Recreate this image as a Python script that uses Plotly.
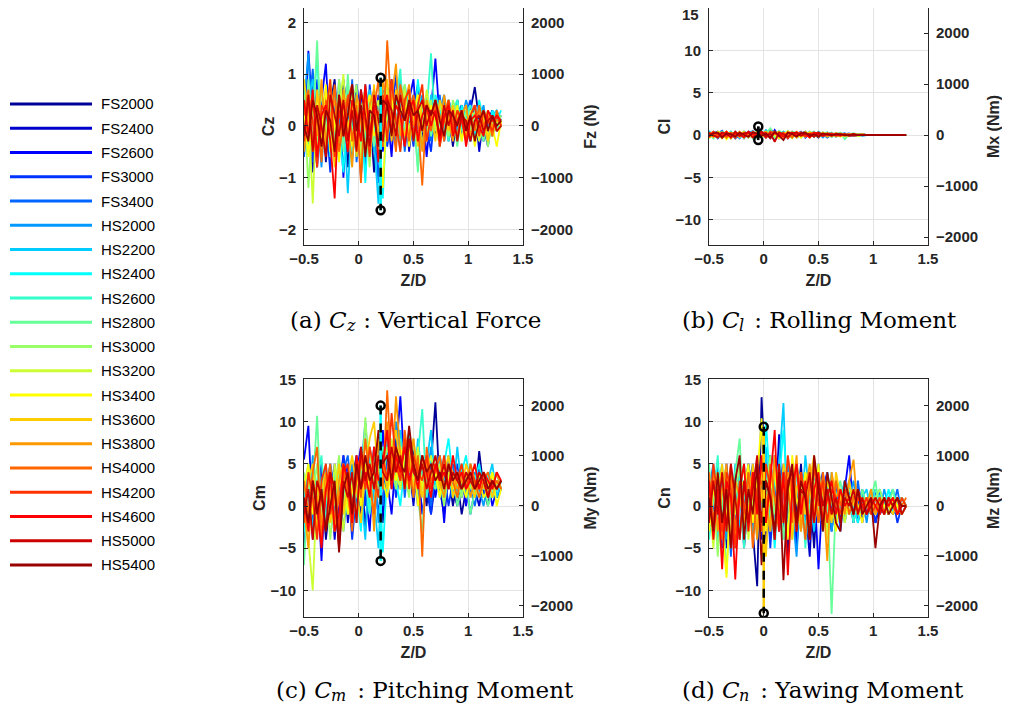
import plotly.graph_objects as go

# page body adds an 8 px margin; the figure fills the rest of the 1010x713 window
OFF = 8
W, H = 1010 - 2 * OFF, 713 - 2 * OFF

# ---------------- data ----------------
Z_D = [-0.50, -0.46, -0.42, -0.38, -0.34, -0.30, -0.26, -0.22, -0.18, -0.14,
       -0.10, -0.06, -0.02, 0.02, 0.06, 0.10, 0.14, 0.18, 0.22, 0.26,
       0.30, 0.34, 0.38, 0.42, 0.46, 0.50, 0.54, 0.58, 0.62, 0.66,
       0.70, 0.74, 0.78, 0.82, 0.86, 0.90, 0.94, 0.98, 1.02, 1.06,
       1.10, 1.14, 1.18, 1.22, 1.26, 1.30]

SERIES = ["FS2000", "FS2400", "FS2600", "FS3000", "FS3400", "HS2000", "HS2200",
          "HS2400", "HS2600", "HS2800", "HS3000", "HS3200", "HS3400", "HS3600",
          "HS3800", "HS4000", "HS4200", "HS4600", "HS5000", "HS5400"]

COLORS = ["#000099", "#0000CC", "#0000FF", "#0033FF", "#0066FF", "#0099FF", "#00CCFF",
          "#00FFFF", "#33FFCC", "#66FF99", "#99FF66", "#CCFF33", "#FFFF00", "#FFCC00",
          "#FF9900", "#FF6600", "#FF3300", "#FF0000", "#CC0000", "#990000"]

CZ = [
    [0.3, -0.5, 0.8, -0.2, 0.6, -0.7, 0.4, 0.9, -0.3, 0.5, -0.8, 0.2, -0.4, 0.7, -0.6, 0.3, -0.9, 0.5, 0.1, 0.8,
     -0.3, 0.6, 0.2, -0.4, 0.7, 0.1, 0.5, -0.3, 0.4, 0.2, -0.2, 0.5, 0.0, 0.3, -0.4, 0.2, 0.4, -0.1, 0.3, 0.75,
     0.1, -0.2, 0.3, -0.1, 0.2, 0.1],
    [0.5, -0.2, -0.9, 0.4, 0.1, 0.7, -0.6, 0.3, -0.2, 0.9, 0.2, -0.5, 0.6, -1.0, 0.4, -0.2, 0.7, -0.7, 0.3, 0.5,
     0.9, -0.2, 0.4, 0.6, -0.5, 0.3, 0.8, 0.0, -0.3, 0.5, 0.2, -0.4, 0.4, 0.1, -0.3, 0.5, -0.2, 0.3, 0.0, 0.4,
     -0.5, 0.2, 0.0, 0.3, -0.1, 0.0],
    [-0.3, 1.45, 0.2, -0.8, 0.5, 1.2, -0.4, 0.1, 0.6, -1.0, 0.4, -0.3, 0.8, 0.2, -0.7, 0.5, 0.0, 0.6, -0.5, 0.3,
     -0.6, 0.7, 0.3, -0.2, 0.5, 0.9, -0.3, 0.4, -0.6, 0.3, 1.3, 0.1, -0.2, 0.5, 0.2, -0.3, 0.4, 0.1, -0.2, 0.3,
     0.2, -0.3, 0.1, 0.3, -0.1, 0.1],
    [0.1, 0.6, -0.7, 0.9, -0.3, 0.2, -0.9, 0.5, 0.3, -0.4, 0.7, -0.6, 0.1, 0.5, -0.9, 0.8, -0.2, 0.3, 0.6, -0.4,
     0.2, 1.0, -0.3, 0.5, 0.2, -0.4, 0.6, 0.3, 0.0, -0.5, 0.4, 0.2, 0.5, -0.3, 0.1, 0.4, -0.2, 0.2, 0.5, -0.1,
     0.3, 0.0, -0.4, 0.2, 0.0, 0.2],
    [-0.6, 0.2, 1.1, -0.3, 0.4, -0.5, 0.8, -0.2, 0.1, 0.6, -0.4, 0.9, -0.7, 0.2, 0.4, -0.5, 0.3, -1.1, 0.7, 0.2,
     0.5, -0.1, 0.7, -0.5, 0.3, 0.6, -0.2, 0.2, 0.6, -0.3, 0.1, 0.6, -0.3, 0.2, 0.4, -0.1, 0.3, 0.0, -0.3, 0.2,
     0.4, -0.1, 0.2, -0.2, 0.1, 0.0],
    [0.4, 1.4, -0.3, 0.2, -0.8, 0.5, 0.1, -0.4, 0.9, -0.2, 0.3, -0.7, 0.5, -0.3, 0.8, 0.1, -0.5, 0.4, -0.2, 0.7,
     0.3, -0.4, 0.9, 0.2, -0.1, 0.5, 0.1, 0.6, -0.2, 0.4, -0.1, 0.3, 0.6, 0.0, 0.4, -0.3, 0.1, 0.5, 0.2, -0.2,
     0.1, 0.4, -0.3, 0.1, 0.2, 0.0],
    [-0.2, 0.5, 0.9, -0.6, 0.3, -0.3, 0.6, 0.2, -0.7, 0.4, -1.3, 0.3, 0.6, -0.4, 0.2, 0.7, -0.3, -1.5, 0.4, 0.1,
     0.6, 0.2, -0.4, 0.8, 0.3, -0.1, 0.5, 0.2, -0.3, 0.6, 0.2, -0.2, 0.4, 0.3, -0.1, 0.5, 0.0, 0.3, -0.3, 0.2,
     0.0, 0.3, -0.2, 0.2, 0.3, 0.1],
    [0.8, -0.4, 0.3, 1.3, -0.2, 0.5, -0.6, 0.7, 0.0, -0.9, 0.5, 0.2, -0.6, 0.4, -1.1, 0.6, 0.3, -0.3, -1.4, 0.5,
     0.1, 0.6, -0.2, 0.4, 0.7, -0.3, 0.9, 0.1, 0.5, -0.2, 0.6, 0.3, -0.1, 0.5, 0.2, -0.2, 0.4, 0.1, 0.3, -0.2,
     0.5, 0.1, -0.1, 0.3, 0.1, 0.3],
    [0.2, -0.3, 0.7, -0.5, 0.4, 0.1, -0.2, 0.6, -0.4, 0.3, 0.8, -0.5, 0.2, 0.4, -0.3, 0.6, 0.0, -0.6, 0.4, 0.2,
     -0.2, 0.5, 1.1, -0.3, 0.4, 0.2, -0.8, 0.5, 0.3, 1.4, -0.1, 0.4, 0.2, -0.3, 0.3, 0.5, -0.1, 0.2, 0.4, 0.0,
     -0.2, 0.3, 0.1, -0.1, 0.2, 0.1],
    [-0.4, 0.9, -0.1, 1.65, -0.6, 0.3, 0.8, -0.3, 0.5, -0.5, 1.0, -0.2, 0.4, -0.7, 0.3, 0.5, -0.4, 0.2, 0.6, -0.3,
     0.4, 0.2, -0.5, 0.6, 0.1, 0.4, -0.9, 0.3, 0.5, -0.2, 0.3, 0.0, 0.4, -0.2, 0.2, -0.4, 0.3, 0.1, -0.1, 0.3,
     0.0, -0.3, 0.2, 0.1, -0.1, 0.1],
    [0.6, -1.2, 0.3, -0.4, 0.7, -0.2, 0.5, -0.6, 0.9, 0.2, -0.3, 0.4, 0.8, -0.5, 0.1, -0.8, 0.5, 0.2, -0.4, 0.6,
     0.3, -0.2, 0.5, 0.8, -0.1, 0.3, 0.6, -0.4, 0.2, 0.5, -0.1, 0.4, 0.1, -0.2, 0.5, 0.2, -0.3, 0.3, 0.0, 0.2,
     -0.1, 0.2, -0.4, 0.1, 0.0, 0.2],
    [-0.1, 0.4, -1.5, 0.6, 0.2, -0.5, 0.9, -0.1, 0.3, 1.0, -0.4, 0.6, -0.2, 0.3, 0.7, -0.6, 0.2, 0.5, -0.3, 0.8,
     -0.1, 0.4, 0.2, 0.7, -0.2, 0.5, 0.2, -0.1, 0.7, 0.1, 0.4, -0.3, 0.2, 0.5, -0.2, 0.3, 0.1, -0.2, 0.3, 0.2,
     -0.3, 0.1, 0.3, -0.2, 0.1, 0.0],
    [0.3, -0.6, 0.5, 0.1, -0.3, 0.8, -0.5, 0.2, -0.7, 0.4, 0.1, -0.4, 0.5, -0.9, 0.3, 0.6, -0.2, 0.0, -1.2, 0.4,
     0.6, -0.2, 0.3, 0.5, -0.4, 0.2, 0.6, 0.0, -0.3, 0.4, 0.1, -0.4, 0.3, 0.2, -0.2, 0.4, -0.3, 0.1, 0.2, -0.4,
     0.1, 0.3, -0.2, 0.0, -0.4, 0.1],
    [0.9, 0.2, -0.5, 0.7, -0.2, 0.4, 0.1, -0.8, 0.6, 0.3, -0.3, 0.5, -0.6, 0.2, 0.4, -0.2, 0.8, -0.5, 0.5, 0.9,
     -0.3, 0.7, 0.1, -0.2, 0.6, 0.3, -0.4, 0.5, 0.1, 0.3, -0.3, 0.5, 0.2, -0.1, 0.4, 0.0, 0.3, -0.2, 0.2, 0.4,
     -0.1, 0.2, -0.3, 0.2, -0.1, 0.0],
    [-0.5, 0.3, 0.6, -0.2, 0.9, -0.4, 0.2, 0.5, -0.3, 0.7, 0.0, -0.8, 0.6, 0.2, -0.5, 0.4, 0.7, -0.3, 0.9, 0.3,
     0.5, 1.2, -0.2, 0.4, 0.8, 0.0, 0.3, -0.5, 0.5, 0.2, 0.4, -0.2, 0.6, 0.1, -0.3, 0.3, 0.2, 0.4, -0.2, 0.1,
     0.3, -0.1, 0.2, 0.0, 0.1, 0.1],
    [0.2, 0.7, -0.4, 0.3, -0.7, 0.5, -0.1, 0.8, -0.5, 0.1, 0.6, -0.3, 0.4, -1.1, 0.7, -0.2, 0.3, 0.9, -0.4, 1.65,
     0.2, -0.5, 0.8, 0.3, -0.3, 0.6, 0.1, -1.15, 0.4, -0.1, 0.5, 0.2, -0.3, 0.4, 0.1, -0.2, 0.3, 0.0, 0.2, -0.1,
     0.4, 0.0, 0.2, -0.2, 0.3, 0.0],
    [-0.3, 0.5, 0.1, -0.8, 0.4, 0.2, 0.9, -0.6, 0.3, -0.2, 0.5, 0.8, -0.4, 0.3, 0.1, -0.6, 0.4, 0.2, 0.6, -0.3,
     0.9, 0.1, -0.5, 0.5, 0.7, -0.2, 0.4, 0.8, -0.3, 0.2, 0.5, -0.4, 0.1, 0.5, -0.1, 0.3, 0.1, -0.3, 0.2, 0.4,
     -0.2, 0.3, 0.1, -0.1, 0.2, 0.0],
    [0.5, -0.2, 0.7, -0.6, 0.2, 0.4, -0.3, -1.4, 0.6, 0.1, -0.5, 0.5, 0.2, -0.3, 0.8, -0.2, 0.4, -0.7, 0.3, 0.6,
     -0.1, 0.4, 0.2, -0.4, 0.3, 0.5, -0.3, 0.2, 0.4, 0.0, 0.3, -0.3, 0.2, 0.4, -0.2, 0.1, 0.3, -0.4, 0.1, 0.2,
     0.0, -0.2, 0.3, 0.1, 0.2, 0.1],
    [-0.2, 0.6, -0.5, 0.4, 0.0, -0.6, 0.6, 0.2, -0.2, 0.5, -0.3, 0.3, -0.5, 0.7, 0.2, -0.4, 0.6, 0.1, -0.3, 0.5,
     0.3, -0.2, 0.6, 0.1, 0.4, -0.3, 0.3, 0.5, 0.0, 0.3, 0.2, -0.2, 0.4, 0.0, 0.3, -0.3, 0.2, 0.1, -0.3, 0.1,
     0.2, -0.1, 0.1, 0.2, -0.1, 0.0],
    [0.0, -0.3, 0.5, 0.2, -0.4, 0.3, 0.1, -0.5, 0.6, -0.2, 0.2, 0.8, -0.1, 0.4, -0.6, 0.3, 0.2, -0.4, 0.5, 0.4,
     -0.2, 0.6, 0.3, 0.1, 0.5, 0.2, 0.3, -0.1, 0.4, 0.2, 0.5, 0.1, -0.2, 0.3, 0.2, 0.0, 0.3, -0.1, 0.2, -0.3,
     0.1, 0.3, -0.1, 0.2, 0.0, 0.1],
]

CL = [
    [0.2, -0.3, 0.1, 0.4, -0.2, 0.3, -0.4, 0.1, 0.2, -0.3, 0.4, -0.1, 0.3, -0.2, 0.5, -0.3, 0.1, 0.2, -0.4, 0.3,
     -0.1, 0.2, 0.4, -0.2, 0.1, -0.3, 0.2, 0.1, -0.1, 0.2, 0.1, -0.1, 0.1, 0.0, -0.1, 0.1, 0, 0, 0, 0, 0, 0, 0, 0, 0, 0],
    [-0.3, 0.2, 0.4, -0.1, 0.3, -0.4, 0.2, -0.2, 0.4, 0.1, -0.3, 0.2, -0.1, 0.5, -0.2, 0.3, -0.4, 0.2, 0.1, -0.3,
     0.3, -0.2, 0.1, 0.3, -0.2, 0.2, -0.1, 0.3, 0.1, -0.2, 0.2, 0.0, -0.1, 0.1, 0.0, 0.1, 0, 0, 0, 0, 0, 0, 0, 0, 0, 0],
    [0.1, 0.3, -0.4, 0.2, 0.0, -0.3, 0.3, 0.1, -0.2, 0.4, 0.2, -0.4, 0.3, 0.1, -0.3, 0.6, -0.2, 0.1, 0.3, -0.2,
     0.1, 0.4, -0.3, 0.2, 0.0, 0.3, -0.2, 0.1, 0.2, -0.1, 0.1, 0.2, -0.1, 0.0, 0.1, 0.0, 0, 0, 0, 0, 0, 0, 0, 0, 0, 0],
    [-0.2, 0.4, 0.0, -0.3, 0.3, 0.1, -0.2, 0.3, -0.4, 0.2, 0.0, 0.3, -0.2, 0.4, 0.1, -0.5, 0.2, 0.3, -0.1, 0.2,
     -0.3, 0.1, 0.3, -0.1, 0.2, -0.2, 0.3, 0.0, -0.2, 0.1, 0.0, 0.1, 0.0, -0.1, 0.1, 0.0, 0, 0, 0, 0, 0, 0, 0, 0, 0, 0],
    [0.3, -0.1, 0.2, 0.5, -0.3, 0.2, 0.1, -0.4, 0.3, 0.0, -0.2, 0.4, 0.1, -0.3, 0.7, 0.2, -0.2, 0.4, 0.0, -0.3,
     0.2, -0.1, 0.3, 0.1, -0.2, 0.2, 0.1, -0.3, 0.1, 0.2, -0.1, 0.1, 0.2, 0.0, -0.1, 0.1, 0, 0, 0, 0, 0, 0, 0, 0, 0, 0],
    [0.4, 0.1, -0.3, 0.2, 0.3, -0.2, 0.4, 0.0, -0.3, 0.2, 0.5, -0.1, 0.2, 0.3, -0.4, 0.1, 0.4, -0.2, 0.3, 0.1,
     -0.2, 0.3, 0.1, 0.4, -0.1, 0.2, -0.3, 0.2, 0.0, 0.1, 0.2, -0.1, 0.0, 0.1, 0.0, -0.1, 0, 0, 0, 0, 0, 0, 0, 0, 0, 0],
    [0.5, -0.2, 0.3, 0.1, -0.4, 0.4, -0.1, 0.2, 0.3, -0.3, 0.1, 0.4, -0.2, 0.6, 0.2, -0.3, 0.3, 0.0, -0.2, 0.4,
     0.1, -0.2, 0.3, 0.2, -0.1, 0.4, 0.1, -0.2, 0.2, 0.0, 0.1, 0.2, -0.1, 0.1, 0.0, 0.1, 0, 0, 0, 0, 0, 0, 0, 0, 0, 0],
    [-0.1, 0.3, 0.2, -0.3, 0.1, 0.4, -0.3, 0.2, 0.0, 0.3, -0.4, 0.2, 0.5, -0.1, 0.3, 0.2, -0.3, 0.4, 0.1, -0.2,
     0.3, 0.0, -0.2, 0.3, 0.1, -0.1, 0.2, 0.3, -0.2, 0.1, 0.0, -0.1, 0.1, 0.2, 0.0, 0.0, 0, 0, 0, 0, 0, 0, 0, 0, 0, 0],
    [0.2, -0.4, 0.1, 0.3, -0.1, 0.2, 0.3, -0.3, 0.4, -0.1, 0.2, 0.0, -0.3, 0.4, 0.2, -0.2, 0.5, 0.1, -0.3, 0.2,
     0.0, 0.3, -0.1, 0.2, 0.4, -0.2, 0.1, 0.0, 0.3, -0.1, 0.2, 0.0, 0.1, -0.1, 0.1, 0.0, 0, 0, 0, 0, 0, 0, 0, 0, 0, 0],
    [0.0, 0.2, -0.2, 0.4, 0.1, -0.3, 0.2, 0.3, -0.1, 0.2, 0.3, -0.4, 0.1, 0.2, 0.8, -0.2, 0.1, 0.3, -0.2, 0.4,
     0.2, -0.3, 0.1, 0.2, -0.1, 0.3, 0.0, -0.1, 0.2, 0.1, 0.3, -0.5, 0.1, 0.0, -0.1, 0.1, 0, 0, 0, 0, 0, 0, 0, 0, 0, 0],
    [0.3, 0.1, -0.3, 0.0, 0.4, -0.2, 0.1, 0.3, -0.4, 0.2, 0.1, 0.3, -0.2, 0.1, 0.4, -0.3, 0.2, -0.1, 0.5, 0.0,
     -0.2, 0.2, 0.3, -0.2, 0.1, 0.2, -0.1, 0.3, 0.0, -0.2, 0.1, 0.1, 0.0, 0.2, -0.1, 0.0, 0, 0, 0, 0, 0, 0, 0, 0, 0, 0],
    [-0.4, 0.2, 0.3, -0.2, 0.1, 0.3, -0.1, 0.2, 0.4, -0.3, 0.2, 0.1, -0.3, 0.3, 0.0, 0.4, -0.2, 0.2, 0.1, -0.4,
     0.3, 0.1, -0.2, 0.4, 0.0, -0.1, 0.3, 0.1, -0.2, 0.2, 0.0, 0.1, -0.1, 0.1, 0.0, 0.1, 0, 0, 0, 0, 0, 0, 0, 0, 0, 0],
    [0.1, -0.3, 0.4, 0.2, -0.5, 0.1, 0.3, -0.2, 0.2, 0.1, -0.3, 0.5, 0.2, -0.2, 0.3, 0.1, -0.4, 0.2, 0.3, -0.1,
     0.2, -0.3, 0.4, 0.0, 0.2, -0.2, 0.1, 0.2, -0.1, 0.1, -0.2, 0.1, 0.0, 0.1, -0.1, 0.0, 0, 0, 0, 0, 0, 0, 0, 0, 0, 0],
    [0.2, 0.3, -0.2, 0.1, 0.4, -0.4, 0.2, 0.0, 0.3, -0.2, 0.4, 0.1, -0.1, 0.3, -0.3, 0.2, 0.4, -0.2, 0.1, 0.3,
     -0.3, 0.2, 0.0, 0.3, -0.2, 0.1, 0.2, -0.1, 0.1, 0.2, 0.0, -0.1, 0.1, 0.0, 0.1, 0.0, 0, 0, 0, 0, 0, 0, 0, 0, 0, 0],
    [-0.3, 0.1, 0.2, -0.4, 0.3, 0.2, -0.1, 0.4, -0.2, 0.1, 0.3, -0.3, 0.2, 0.4, -0.1, 0.3, 0.0, -0.3, 0.4, 0.1,
     -0.1, 0.3, 0.2, -0.3, 0.2, 0.0, 0.3, -0.2, 0.1, 0.0, 0.2, 0.0, -0.1, 0.1, 0.0, 0.0, 0, 0, 0, 0, 0, 0, 0, 0, 0, 0],
    [0.1, 0.4, -0.1, 0.2, -0.3, 0.3, 0.1, -0.2, 0.3, 0.2, -0.2, 0.3, 0.4, -0.3, 0.1, 0.4, -0.2, 0.1, 0.3, -0.3,
     0.4, 0.0, -0.1, 0.2, 0.3, -0.2, 0.1, 0.2, -0.1, 0.2, 0.1, -0.1, 0.0, 0.1, 0.0, 0.1, 0, 0, 0, 0, 0, 0, 0, 0, 0, 0],
    [0.3, -0.2, 0.1, 0.3, -0.1, 0.2, -0.3, 0.3, 0.1, -0.2, 0.4, 0.0, 0.2, -0.3, 0.4, 0.2, -0.1, 0.3, -0.4, 0.2,
     0.1, 0.3, -0.2, 0.1, 0.2, 0.3, -0.1, 0.0, 0.2, -0.1, 0.1, 0.0, 0.1, -0.1, 0.0, 0.0, 0, 0, 0, 0, 0, 0, 0, 0, 0, 0],
    [-0.2, 0.3, 0.2, -0.1, 0.4, -0.3, 0.2, 0.1, -0.3, 0.4, 0.1, -0.2, 0.3, 0.2, -0.4, 0.3, 0.1, -0.2, 0.2, 0.3,
     -0.1, 0.2, 0.1, -0.3, 0.3, 0.1, -0.1, 0.2, 0.1, 0.0, -0.1, 0.1, 0.0, 0.1, 0.0, 0.0, 0, 0, 0, 0, 0, 0, 0, 0, 0, 0],
    [0.2, 0.0, -0.3, 0.3, 0.1, -0.2, 0.4, -0.1, 0.2, 0.3, -0.3, 0.1, 0.4, -0.2, 0.2, -0.8, 0.3, 0.1, -0.2, 0.2,
     0.3, -0.1, 0.2, 0.1, -0.2, 0.3, 0.0, 0.1, -0.1, 0.1, 0.0, 0.1, -0.1, 0.0, 0.0, 0.0, 0, 0, 0, 0, 0, 0, 0, 0, 0, 0],
    [-0.1, 0.2, 0.3, -0.3, 0.2, 0.1, -0.2, 0.3, 0.0, -0.2, 0.3, 0.2, -0.1, 0.2, -0.3, 0.4, -0.1, -0.6, 0.3, 0.1,
     -0.2, 0.2, 0.3, -0.1, 0.1, -0.2, 0.2, 0.1, 0.0, 0.1, 0.1, 0.0, 0.0, 0.1, 0.0, 0.0, 0, 0, 0, 0, 0, 0, 0, 0, 0, 0],
]

CM = [
    [2, -3, 5, -1, 3, -4, 1, 4, -2, 5, -1, 3, 6, -2, 4, 1, 7, 3, -2, 6,
     4, 8, 2, 6, 3, 7, 1, 4, 0, 5, 12.3, 2, -1, 4, 0, 3, -1, 2, 4, 1, 6.5, 2, 0, 3, 1, 2],
    [-2, 4, 1, -3, 5, 0, 3, -4, 2, 6, -2, 4, 0, 6, -3, 5, 2, 8, -1, 4,
     7, 2, 9, 3, 5, 0, 6, 2, 4, -1, 3, 5, 1, 4, 2, 0, 3, 1, 4, 2, 0, 3, 1, 4, 2, 3],
    [5.5, 9.5, -2, 3, -6.5, 4, 0, 5, -3, 2, 5, -1, 4, 7, 2, -3, 6, 1, 9, 3,
     -1, 6, 13, 4, 8, 2, 5, -1, 3, 6, 1, 4, -2, 5, 3, 1, 4, 0, 3, 2, 5, 1, 3, 0, 2, 3],
    [0, 3, -4, 2, 5, -2, 4, 1, -3, 6, 3, -4, 2, 5, 0, 7, 3, -1, 5, 2,
     6, 1, 4, 7, 3, 6, 0, 4, 2, -1, 5, 2, 4, 0, 3, 5, 1, 3, -1, 2, 4, 1, 2, 3, 1, 2],
    [-5, 2, 4, -1, 3, -3, 5, 2, -2, 4, 6, 1, -2, 3, 6, 2, 5, 4, 0, 7,
     2, 5, 8, 1, 6, 3, 7, 2, 5, 0, 4, 6, 2, 3, 5, 1, 3, 4, 2, 0, 3, 2, 4, 1, 3, 2],
    [3, -2, 6, 1, -4, 2, 5, -1, 3, -3, 2, 5, -1, 4, 10, 3, 6, -2, 4, 8,
     3, 10, 5, 2, 7, 4, 1, 5, 3, 7, 2, 4, 1, 6, 3, 2, 5, 1, 3, 4, 2, 0, 3, 2, 4, 2],
    [1, 4, -3, 3, 0, 5, -2, 2, 4, -1, 3, 0, 5, 2, -4, 6, 1, -5, 7, 3,
     5, 2, 9, 4, 6, 1, 8, 3, 5, 9, 2, 6, 3, 4, 1, 7, 2, 3, 5, 1, 4, 2, 3, 5, 1, 3],
    [-3, 2, 5, -1, 3, 1, -2, 4, 0, 3, -1, 4, 2, -3, 5, 0, 3, 6, -5.5, 4,
     6, 3, 0, 5, 9, 2, 7, 4, 2, 6, 4, 1, 5, 8, 3, 2, 4, 6, 2, 3, 5, 2, 4, 1, 3, 2],
    [2, 5, -1, 3, 6, -2, 3, 0, 5, 2, -1, 4, 1, 6, 3, -1, 5, 3, 7, 2,
     6, 4, 8, 2, 5, 3, 6, 11.5, 1, 4, 3, 5, 2, 4, 1, 3, 5, 2, 3, 1, 4, 2, 3, 1, 2, 3],
    [-7, 3, 2, 10.7, -2, 4, 1, -3, 5, 2, 0, 4, -2, 5, 3, 1, 6, 2, 4, 9,
     3, 6, 2, 7, 4, 5, 1, -3, 6, 3, 2, 5, 1, 3, 4, 0, 2, 3, -1, 2, 1, 3, 0, 2, 3, 2],
    [4, -3, 1, 5, -1, 3, -4, 2, 6, 0, 3, -2, 4, 1, 10.5, 3, 5, 1, 3, 7,
     5, 2, 6, 4, 1, 8, 3, 5, 2, 4, 6, 3, 0, 4, 2, 3, 1, 4, 2, 3, 1, 3, 2, 4, 2, 3],
    [1, -4, -10, 3, 0, 4, -2, 5, 1, -3, 4, 2, -1, 5, 3, 7, 2, 4, 6, 3,
     8, 4, 2, 6, 5, 3, 7, 2, 4, 6, 3, 5, 2, 4, 3, 1, 4, 2, 5, 3, 2, 4, 1, 3, 2, 3],
    [2, 5, -1, 3, -3, 4, 1, -2, 3, 5, -1, 2, 4, 0, 5, 2, -1, 6, 3, 1,
     5, 3, 7, 4, 2, 6, 0, 3, 5, 2, 4, 1, 5, 3, 2, 4, 3, 1, 4, 2, 3, 1, 2, 4, 0, 2],
    [-1, 3, 5, -3, 2, 4, -2, 1, 5, -1, 3, 6, 2, -2, 4, 8, 10, 3, 5, 2,
     6, 9, 4, 3, 7, 2, 5, 1, 4, 3, 5, 2, 4, 6, 1, 3, 2, 5, 3, 1, 4, 2, 3, 1, 3, 2],
    [0, -5, 3, 1, -2, 4, 2, -3, 3, 5, 1, -2, 4, 6, 2, 5, -3, 8, 4, 10,
     3, 13, 6, 2, 5, 8, 3, 6, 2, 4, 5, 3, 1, 5, 4, 2, 3, 4, 1, 3, 2, 4, 3, 2, 4, 2],
    [3, -1, 4, 7, -4, 2, 5, -2, 1, 4, 2, -3, 5, 1, 8, 3, -1, 6, 2, 13.7,
     4, 7, 3, 9, 5, 1, 6, -6, 7, 3, 4, 6, 2, 5, 3, 1, 4, 2, 5, 3, 1, 3, 4, 2, 3, 2],
    [-2, 4, 1, -4, 3, 5, -1, 2, -3, 4, 5, 0, 3, 6, 2, 7, 4, 1, 6, 3,
     11, 5, 3, 8, 2, 6, 4, 3, 6, 2, 5, 3, 6, 2, 4, 3, 5, 2, 4, 3, 2, 4, 1, 3, 2, 3],
    [1, -3, 3, 0, -5, 2, 4, -3, -1, 5, 3, -2, 6, 2, 4, 1, 7, 3, 5, 9,
     2, 6, 4, 7, 3, 5, 2, 6, 4, 1, 5, 3, 4, 2, 6, 3, 4, 2, 3, 5, 2, 4, 3, 2, 4, 3],
    [-1, 2, -4, 3, 1, -3, 4, 2, -5, 3, 1, 4, -2, 7, 3, 5, 2, 6, 4, 3,
     7, 4, 6, 2, 8, 4, 3, 5, 2, 4, 6, 3, 5, 2, 4, 3, 2, 4, 3, 2, 4, 3, 1, 3, 2, 3],
    [1, -2, 3, -1, 2, -3, 0, 3, -5.5, 2, 4, -1, 5, 2, 6, 3, 4, 9, 5, 6,
     3, 7, 5, 4, 9.5, 5, 3, 6, 4, 5, 3, 4, 2, 5, 3, 4, 2, 3, 4, 2, 3, 4, 2, 3, 2, 3],
]

CN = [
    [3, -2, 5, -4, 1, -3, 2, 4, -5, 1, -3, -9.5, 12.9, 2, -4, 5, -2, 3, -6, 4,
     -1, 5, -3, 2, -5, 4, 1, -3, 3, -2, 1, -1, 2, -2, 1, 0, -1, 1, -2, 0, 1, -1, 0, 1, -1, 0],
    [-2, 4, -1, 3, -5, 2, -3, 5, 1, -2, 4, -1, 3, -5, 6, -2, 8.5, -3, 2, 5,
     -4, 3, 0, -6, 4, -2, 3, 1, -3, 2, -1, 3, -1, 1, -2, 1, 0, -1, 1, -1, 0, 1, -1, 0, 1, 0],
    [1, -3, 4, -2, 5, -1, 3, -4, 2, 5, -3, 2, -4, 4, -2, 6, -3, 3, -1, 4,
     -5, 2, 4, -2, 3, -7.5, 2, 4, -1, 3, -2, 2, 6, -1, 2, -2, 1, -1, 2, -1, 1, 0, -1, 1, 0, 0],
    [4, -1, 2, -5, 3, 1, -4, 2, -2, 5, 1, -3, 2, 4, -5, 3, 0, -2, 5, -3,
     2, 4, -4, 3, -1, 2, 4, -3, 1, 2, -2, 1, 3, -1, 0, 2, -1, 1, -2, 1, 0, -1, 1, -2, 0, 0],
    [-3, 2, 5, -2, 4, -6, 3, 1, -3, 2, 5, -1, 4, -2, 6, -3, 2, 5, -4, 3,
     1, -3, 4, 2, -2, 5, -3, 2, 0, 3, -3, 2, 1, -2, 3, -1, 1, 0, -1, 2, -1, 1, 0, 2, -1, 0],
    [2, 5, -3, 1, -4, 3, -1, 2, 5, -2, 3, -4, 1, 6, -3, 4, -2, 2, 5, -1,
     -6, 3, 1, -3, 4, 1, -2, 3, -3, 1, 2, -2, 1, 3, -1, 1, -2, 2, 1, -1, 2, 0, 1, -1, 1, 0],
    [-1, 3, -5, 4, 0, -2, 5, -3, 2, 4, -4, 3, 1, 7, -2, 3, 5, 12.2, -3, 2,
     4, -2, 6, 1, -3, 3, 2, -1, 4, -2, 1, 3, -1, 2, -1, 1, 2, -1, 1, 2, -1, 1, 2, 0, 1, 0],
    [3, -4, 2, 5, -2, 1, -5, 4, 2, -3, 4, 1, -3, 10, 2, -5, 3, 9, 1, -4,
     5, 2, -3, 4, 0, 3, -2, 4, 1, -1, 2, -1, 3, 0, -2, 1, 0, 2, -1, 1, 0, 2, -1, 1, 0, 0],
    [-4, 1, 6, -3, 2, 4, -1, 3, -5, 2, 1, -3, 4, 2, -2, 5, 0, -4, 3, 1,
     -2, 4, -5, 2, 3, -1, 2, -2, 3, 0, -1, 2, 1, -2, 1, 0, 1, -1, 2, 1, -1, 1, 0, 1, 0, 0],
    [5, -2, 3, 1, -8, 2, 4, 8, -3, 1, -2, 4, 3, -1, 5, -3, 2, -4, 3, 1,
     5, -2, 3, -1, 4, 2, -3, 1, -12.8, 1, 3, -1, 2, 1, -1, 2, 0, 1, 3, -1, 1, 0, 2, -1, 1, 0],
    [-2, 3, -6, 2, 4, -3, 1, 5, -2, 3, 0, 4, -3, 2, 6, -1, 3, -2, 4, 2,
     -3, 1, 4, -2, 3, 0, 2, -3, 2, 1, -1, 2, 0, 1, -1, 1, 0, -1, 1, 2, 0, -1, 1, 0, 1, 0],
    [1, -5, 2, 4, -3, 3, -1, 2, 5, -4, 2, -2, 4, 1, -3, 5, 1, -2, 4, -3,
     2, 3, -1, 4, -2, 1, 3, -4, 2, 0, 1, -2, 1, 2, -1, 0, 1, -1, 0, 1, -1, 0, 1, -1, 0, 0],
    [-3, 2, 4, -2, -8.5, 3, 1, -4, 2, 5, -2, 3, 10.4, -3, 2, 4, -1, 3, -4, 6,
     1, -3, 4, 2, -1, 5, -2, 3, 1, -3, 2, 0, -1, 2, 0, -2, 1, 0, -1, 1, 0, -1, 1, 0, -1, 0],
    [2, -3, 1, 5, -2, 4, -4, 2, 3, -1, 5, -3, 2, -6, 4, 1, -2, 5, 3, -4,
     2, 4, -1, 3, 6, -2, 3, 1, -2, 4, 1, -1, 3, 0, 2, -1, 0, 1, -1, 0, 1, 0, -1, 1, 0, 0],
    [-1, 4, -3, 2, 5, -5, 3, 1, -2, 4, 2, -4, 5, 1, -3, 6, 2, -2, 4, 1,
     6, -3, 2, 5, -1, 3, 2, -6.5, 4, 1, 2, -1, 3, 5.5, -1, 1, 0, 2, -1, 1, -1, 1, 0, 1, -1, 0],
    [4, -2, 3, -4, 1, 5, -3, 2, -1, 4, -5, 2, 3, -2, 5, 1, -3, 4, 2, -2,
     5, 1, -4, 3, 2, -2, 4, 1, -1, 3, 0, 2, -1, 1, 2, -1, 1, 0, 1, -1, 1, 0, 1, -1, 0, 1],
    [-2, 5, 1, -3, 4, 2, -5, 3, 0, -2, 4, 1, -3, 5, 2, -4, 3, -1, 6, 2,
     -3, 4, 1, -2, 5, 0, 3, -2, 2, 1, -1, 2, 1, -1, 1, 0, 1, -1, 0, 1, -1, 1, 0, -1, 1, 0],
    [3, -4, 2, -7.5, 3, 1, -8.7, 2, 5, -3, 4, -1, 6, -2, 3, 9, -3, 4, -8.2, 2,
     5, -1, 3, -4, 2, 4, -2, 1, 3, -1, 2, 0, 1, -1, 2, 0, -1, 1, 0, -1, 1, 0, 1, -1, 0, 0],
    [-2, 3, -1, 4, -3, 5, 1, -4, 3, -2, 2, 6, -2, 3, 1, -4, 5, -2, 3, 4,
     -3, 2, 1, 4, -2, 3, 0, 2, -1, 1, -2, 1, 0, 2, -1, 1, -1, 0, 1, 0, -1, 1, 0, 1, -1, 0],
    [1, -3, 4, -2, 2, -5, 3, 6, -4, 2, -1, 5, -7, 3, 1, -3, 4, -8.8, 2, 5,
     -2, 3, 1, -4, 6, 2, -3, 4, 1, -2, -3, 3, 1, -1, 2, -1, 0, 1, -5, 0, 1, -1, 0, 1, 0, 0],
]

# highlighted peak-to-peak marker per panel
MARK_X = [0.2, -0.05, 0.2, 0.0]
MARK_TOP = [0.93, 1.0, 11.9, 9.4]
MARK_BOT = [-1.63, -0.6, -6.5, -12.7]
MARK_UNDER = ["#00FFFF", "#000000", "#00FFFF", "#FFCC00"]

LEFT_TITLES = ["Cz", "Cl", "Cm", "Cn"]
RIGHT_TITLES = ["Fz (N)", "Mx (Nm)", "My (Nm)", "Mz (Nm)"]
# caption pieces: label + symbol, subscript, description
CAP_HEAD = ["(a) <i>C</i>", "(b) <i>C</i>", "(c) <i>C</i>", "(d) <i>C</i>"]
CAP_SUB = ["z", "l", "m", "n"]
CAP_TAIL = ["\u00a0: Vertical Force", "\u00a0: Rolling Moment",
            "\u00a0: Pitching Moment", "\u00a0: Yawing Moment"]

# left-axis tick values per panel (the top tick of panel b sits on the page edge,
# so its label is drawn separately just inside the page)
LEFT_TICKS = [[-2, -1, 0, 1, 2], [-10, -5, 0, 5, 10], [-10, -5, 0, 5, 10, 15], [-10, -5, 0, 5, 10, 15]]
EDGE_LABEL = "15"

# ---------------- layout geometry (window pixels) ----------------
# cap = (x where the symbol C ends, x where the subscript ends, y of the text line)
PANELS = [
    dict(data=CZ, xpx=(304, 523), ypx=(8, 245), yr=[-2.3, 2.276], rr=[-2300, 2276], cap=(347, 356, 320)),
    dict(data=CL, xpx=(709, 928), ypx=(8, 245), yr=[-13.0, 15.02], rr=[-2157, 2493], cap=(740, 747, 320)),
    dict(data=CM, xpx=(304, 523), ypx=(379, 617), yr=[-13.15, 15.05], rr=[-2220, 2533], cap=(332, 350, 690)),
    dict(data=CN, xpx=(709, 928), ypx=(379, 617), yr=[-13.15, 15.05], rr=[-2220, 2533], cap=(740, 753, 690)),
]


def px(x):
    return min(1.0, max(0.0, (x - OFF) / W))


def py(y):
    return min(1.0, max(0.0, 1 - (y - OFF) / H))


INK = "#262626"
GRID = "#e3e3e3"
FONT = "Liberation Sans"
SERIF = "DejaVu Serif"

fig = go.Figure()
layout = dict(width=W, height=H, autosize=False, margin=dict(l=0, r=0, t=0, b=0, pad=0),
              paper_bgcolor="white", plot_bgcolor="white", showlegend=False,
              font=dict(family=FONT, color=INK), shapes=[], annotations=[])

tick_font = dict(family=FONT, size=15, color=INK, weight="bold")
title_font = dict(family=FONT, size=16, color=INK, weight="bold")

for k, p in enumerate(PANELS):
    i = k + 1
    xa = "x" if i == 1 else f"x{i}"
    ya = "y" if i == 1 else f"y{i}"
    ra = f"y{i + 4}"
    for s, (name, color) in enumerate(zip(SERIES, COLORS)):
        vals = p["data"][s]
        fig.add_trace(go.Scatter(x=Z_D[:len(vals)], y=vals, mode="lines", name=name,
                                 line=dict(color=color, width=1.8), xaxis=xa, yaxis=ya,
                                 legendgroup=name, showlegend=False, hoverinfo="skip"))
    fig.add_trace(go.Scatter(x=[MARK_X[k], MARK_X[k]], y=[MARK_TOP[k], MARK_BOT[k]], mode="lines",
                             line=dict(color=MARK_UNDER[k], width=2.5), xaxis=xa, yaxis=ya,
                             showlegend=False, hoverinfo="skip"))
    fig.add_trace(go.Scatter(x=[MARK_X[k], MARK_X[k]], y=[MARK_TOP[k], MARK_BOT[k]], mode="lines+markers",
                             line=dict(color="black", width=2.5, dash="dash"),
                             marker=dict(symbol="circle-open", size=8, color="black", line=dict(width=2.5)),
                             xaxis=xa, yaxis=ya, showlegend=False, hoverinfo="skip"))
    # carrier for the right-hand dimensional axis
    fig.add_trace(go.Scatter(x=[None], y=[None], xaxis=xa, yaxis=ra, showlegend=False, hoverinfo="skip"))

    x0, x1 = p["xpx"]
    t, b = p["ypx"]
    layout[f"xaxis{'' if i == 1 else i}"] = dict(
        domain=[px(x0), px(x1)], anchor=ya, range=[-0.5, 1.5], dtick=0.5, tick0=-0.5, automargin=False,
        showgrid=True, gridcolor=GRID, zeroline=False, showline=True, linecolor=INK, linewidth=1,
        mirror=True, ticks="inside", ticklen=4, tickcolor=INK, tickfont=tick_font,
        title=dict(text="Z/D", font=title_font, standoff=8))
    layout[f"yaxis{'' if i == 1 else i}"] = dict(
        domain=[py(b), py(t)], anchor=xa, range=p["yr"], tickmode="array", tickvals=LEFT_TICKS[k],
        automargin=False,
        showgrid=True, gridcolor=GRID, zeroline=False, showline=True, linecolor=INK, linewidth=1,
        ticks="inside", ticklen=4, tickcolor=INK, tickfont=tick_font, ticklabelstandoff=4,
        title=dict(text=LEFT_TITLES[k], font=title_font, standoff=0))
    layout[f"yaxis{i + 4}"] = dict(
        overlaying=ya, anchor=xa, side="right", range=p["rr"], dtick=1000, automargin=False,
        showgrid=False, zeroline=False, showline=True, linecolor=INK, linewidth=1,
        ticks="inside", ticklen=4, tickcolor=INK, tickfont=tick_font, ticklabelstandoff=4,
        title=dict(text=RIGHT_TITLES[k], font=title_font, standoff=12))

    c_end, s_end, cy = p["cap"]
    common = dict(xref="paper", yref="paper", yanchor="middle", showarrow=False, borderpad=0, borderwidth=0)
    layout["annotations"].append(dict(text=CAP_HEAD[k], x=px(c_end), y=py(cy), xanchor="right",
                                      font=dict(family=SERIF, size=23, color="black"), **common))
    layout["annotations"].append(dict(text=f"<i>{CAP_SUB[k]}</i>", x=px(c_end), y=py(cy), xanchor="left",
                                      xshift=-1, yshift=-5, font=dict(family=SERIF, size=16, color="black"),
                                      **common))
    layout["annotations"].append(dict(text=CAP_TAIL[k], x=px(s_end), y=py(cy), xanchor="left",
                                      font=dict(family=SERIF, size=23, color="black"), **common))

# top label of panel (b): kept fully on the page, right-aligned with the other tick labels
layout["annotations"].append(dict(text=EDGE_LABEL, x=px(700), y=py(15), xref="paper", yref="paper",
                                  xanchor="right", yanchor="middle", showarrow=False, borderpad=0,
                                  font=tick_font))

# legend drawn as a column of swatches
LEG_X0, LEG_X1, LEG_TX, LEG_Y0, LEG_DY = 10, 92, 99, 104, 24.26
for s, (name, color) in enumerate(zip(SERIES, COLORS)):
    yy = py(LEG_Y0 + s * LEG_DY)
    layout["shapes"].append(dict(type="line", xref="paper", yref="paper", x0=px(LEG_X0), x1=px(LEG_X1),
                                 y0=yy, y1=yy, line=dict(color=color, width=3)))
    layout["annotations"].append(dict(text=name, x=px(LEG_TX), y=yy, xref="paper", yref="paper",
                                      xanchor="left", yanchor="middle", showarrow=False,
                                      font=dict(family=FONT, size=15, color="black")))

fig.update_layout(**layout)
fig.write_html("out.html")
